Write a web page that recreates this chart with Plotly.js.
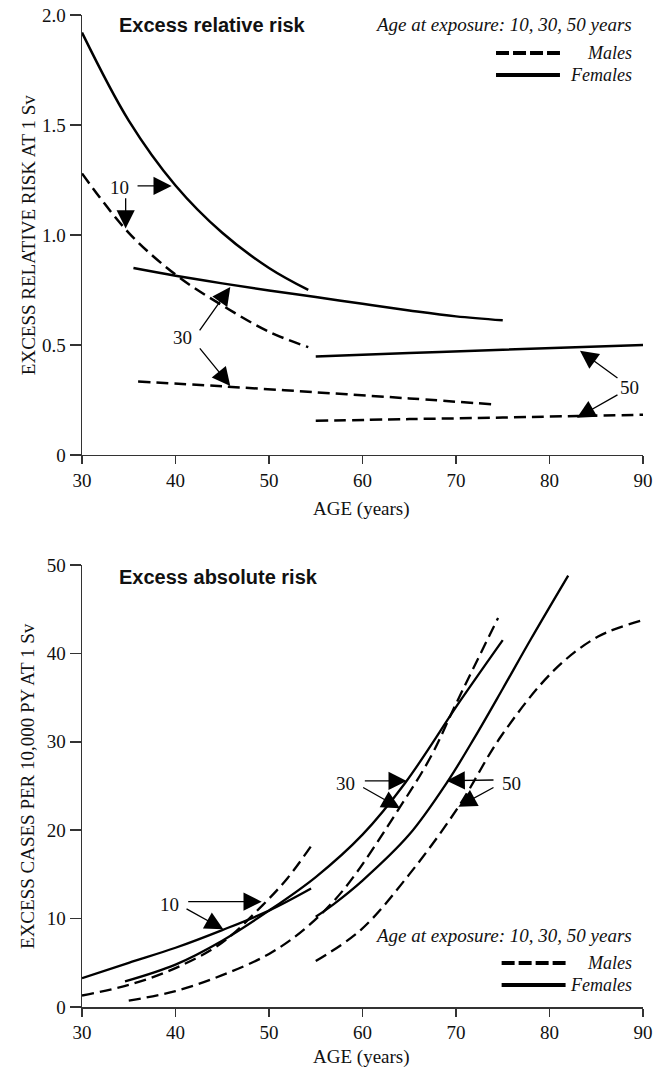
<!DOCTYPE html>
<html>
<head>
<meta charset="utf-8">
<script src="https://cdn.plot.ly/plotly-3.0.1.min.js"></script>
<style>html,body{margin:0;padding:0;background:#fff;}#chart{width:653px;height:1068px;}</style>
</head>
<body>
<div id="chart"></div>
<script>
// ---------- Data: Excess relative risk (top panel) ----------
const relF10Age  = [30, 35, 40, 45, 50, 54.2];
const relF10Val  = [1.92, 1.52, 1.225, 1.01, 0.85, 0.75];
const relM10Age  = [30, 35, 40, 45, 50, 54.2];
const relM10Val  = [1.28, 1.01, 0.82, 0.68, 0.56, 0.49];
const relF30Age  = [35.5, 40, 45, 50, 55, 60, 65, 70, 75];
const relF30Val  = [0.85, 0.815, 0.78, 0.748, 0.718, 0.687, 0.657, 0.63, 0.612];
const relM30Age  = [36, 45, 55, 65, 74.3];
const relM30Val  = [0.334, 0.312, 0.285, 0.257, 0.229];
const relF50Age  = [55, 65, 75, 90];
const relF50Val  = [0.447, 0.463, 0.478, 0.50];
const relM50Age  = [55, 65, 75, 83, 90];
const relM50Val  = [0.155, 0.163, 0.17, 0.177, 0.183];

// ---------- Data: Excess absolute risk (bottom panel) ----------
const absF10Age  = [30, 35, 40, 45, 50, 54.5];
const absF10Val  = [3.25, 5.0, 6.7, 8.7, 10.9, 13.4];
const absM10Age  = [30, 35, 40, 45, 49.3, 52, 54.5];
const absM10Val  = [1.3, 2.5, 4.4, 7.3, 11.5, 14.6, 18.2];
const absF30Age  = [34.6, 40, 45, 50, 55, 60, 64.6, 70.5, 75];
const absF30Val  = [2.9, 4.8, 7.5, 10.9, 14.7, 19.5, 25.4, 34.7, 41.5];
const absM30Age  = [35, 40, 45, 50, 54, 58, 64, 67.3, 70, 74.5];
const absM30Val  = [0.72, 1.8, 3.6, 6.0, 9.0, 13.3, 22.6, 28.3, 34.3, 44];
const absF50Age  = [55, 57, 60, 65, 69.1, 72, 75, 78, 82];
const absF50Val  = [10.2, 11.7, 14.3, 19.5, 25.5, 30.5, 36, 41.6, 48.8];
const absM50Age  = [55, 59.8, 65, 70.3, 74.8, 80.5, 85.2, 89.8];
const absM50Val  = [5.2, 8.7, 15.0, 22.7, 30.6, 38.1, 41.9, 43.7];

// ---------- Tick labels ----------
const xTickVals = [30, 40, 50, 60, 70, 80, 90];
const relTickVals = [0, 0.5, 1, 1.5, 2];
const relTickText = ['0', '0.5', '1.0', '1.5', '2.0'];
const absTickVals = [0, 10, 20, 30, 40, 50];

const serif = 'Liberation Serif, Times New Roman, serif';
const sans = 'Liberation Sans, Arial, sans-serif';

function curve(x, y, dashed, xa, ya, w) {
  return {
    x: x, y: y, xaxis: xa, yaxis: ya, type: 'scatter', mode: 'lines',
    line: {color: '#000', width: w, dash: dashed ? '12px,6px' : 'solid', shape: 'spline', smoothing: 1},
    hoverinfo: 'skip', showlegend: false
  };
}

const traces = [
  curve(relF10Age, relF10Val, false, 'x', 'y', 2.5),
  curve(relM10Age, relM10Val, true, 'x', 'y', 2.5),
  curve(relF30Age, relF30Val, false, 'x', 'y', 2.5),
  curve(relM30Age, relM30Val, true, 'x', 'y', 2.5),
  curve(relF50Age, relF50Val, false, 'x', 'y', 2.5),
  curve(relM50Age, relM50Val, true, 'x', 'y', 2.5),
  curve(absF10Age, absF10Val, false, 'x2', 'y2', 2.3),
  curve(absM10Age, absM10Val, true, 'x2', 'y2', 2.3),
  curve(absF30Age, absF30Val, false, 'x2', 'y2', 2.3),
  curve(absM30Age, absM30Val, true, 'x2', 'y2', 2.3),
  curve(absF50Age, absF50Val, false, 'x2', 'y2', 2.3),
  curve(absM50Age, absM50Val, true, 'x2', 'y2', 2.3)
];

const axisCommon = {
  showgrid: false, zeroline: false, showline: true, linecolor: '#333', linewidth: 1.5,
  ticks: 'outside', tickcolor: '#333', tickwidth: 1.5,
  tickfont: {family: serif, size: 19, color: '#111'}
};

function label(text, x, y, xr, yr) {
  return {text: text, x: x, y: y, xref: xr, yref: yr, showarrow: false,
          font: {family: serif, size: 19, color: '#111'}, xanchor: 'center', yanchor: 'middle'};
}
function arrow(tx, ty, hx, hy, xr, yr) {
  return {text: '', x: hx, y: hy, ax: tx, ay: ty, xref: xr, yref: yr, axref: xr, ayref: yr,
          showarrow: true, arrowhead: 2, arrowsize: 2.8, arrowwidth: 1.3, arrowcolor: '#000', standoff: 0};
}
function note(text, x, y, anchor, size, fam) {
  return {text: text, x: x, y: y, xref: 'paper', yref: 'paper', xanchor: anchor, yanchor: 'middle',
          showarrow: false, font: {family: fam || serif, size: size, color: '#111'}};
}

const annotations = [
  // panel titles
  note('<b>Excess relative risk</b>', 0.0624, 0.99, 'left', 20, sans),
  note('<b>Excess absolute risk</b>', 0.0624, 0.4335, 'left', 20, sans),
  // legend texts top
  note('<i>Age at exposure: 10, 30, 50 years</i>', 0.984, 0.99, 'right', 19),
  note('<i>Males</i>', 0.984, 0.9617, 'right', 18),
  note('<i>Females</i>', 0.984, 0.9395, 'right', 18),
  // legend texts bottom
  note('<i>Age at exposure: 10, 30, 50 years</i>', 0.984, 0.0716, 'right', 19),
  note('<i>Males</i>', 0.984, 0.0444, 'right', 18),
  note('<i>Females</i>', 0.984, 0.0222, 'right', 18),
  // axis titles
  note('AGE (years)', 0.499, 0.502, 'center', 19),
  note('AGE (years)', 0.499, -0.0504, 'center', 19),
  Object.assign(note('EXCESS RELATIVE RISK AT 1 Sv', -0.0963, 0.778, 'center', 19), {textangle: -90}),
  Object.assign(note('EXCESS CASES PER 10,000 PY AT 1 Sv', -0.0963, 0.2228, 'center', 19), {textangle: -90}),
  // top panel labels/arrows
  label('10', 34.06, 1.215, 'x', 'y'),
  arrow(35.78, 1.223, 39.59, 1.223, 'x', 'y'),
  arrow(34.67, 1.174, 34.67, 1.030, 'x', 'y'),
  label('30', 40.80, 0.532, 'x', 'y'),
  arrow(42.47, 0.559, 45.86, 0.764, 'x', 'y'),
  arrow(42.47, 0.491, 45.86, 0.314, 'x', 'y'),
  label('50', 88.58, 0.306, 'x', 'y'),
  arrow(87.43, 0.345, 83.26, 0.474, 'x', 'y'),
  arrow(87.43, 0.277, 82.94, 0.169, 'x', 'y'),
  // bottom panel labels/arrows
  label('10', 39.41, 11.54, 'x2', 'y2'),
  arrow(41.20, 11.91, 49.22, 11.91, 'x2', 'y2'),
  arrow(41.02, 11.2, 45.11, 8.79, 'x2', 'y2'),
  label('30', 58.13, 25.3, 'x2', 'y2'),
  arrow(60.09, 25.57, 64.73, 25.57, 'x2', 'y2'),
  arrow(59.91, 24.92, 64.01, 22.48, 'x2', 'y2'),
  label('50', 75.96, 25.3, 'x2', 'y2'),
  arrow(74.17, 25.68, 69.0, 25.6, 'x2', 'y2'),
  arrow(74.17, 24.92, 70.25, 22.66, 'x2', 'y2')
];

const shapes = [
  // legend samples top
  {type: 'line', xref: 'paper', yref: 'paper', x0: 0.738, x1: 0.852, y0: 0.9617, y1: 0.9617,
   line: {color: '#000', width: 4, dash: '13px,4px'}},
  {type: 'line', xref: 'paper', yref: 'paper', x0: 0.738, x1: 0.852, y0: 0.9395, y1: 0.9395,
   line: {color: '#000', width: 4}},
  // legend samples bottom
  {type: 'line', xref: 'paper', yref: 'paper', x0: 0.748, x1: 0.862, y0: 0.0444, y1: 0.0444,
   line: {color: '#000', width: 4, dash: '13px,4px'}},
  {type: 'line', xref: 'paper', yref: 'paper', x0: 0.748, x1: 0.862, y0: 0.0222, y1: 0.0222,
   line: {color: '#000', width: 4}}
];

const layout = {
  width: 653, height: 1068,
  margin: {l: 82, r: 10, t: 15, b: 61},
  paper_bgcolor: '#fff', plot_bgcolor: '#fff',
  showlegend: false,
  xaxis: Object.assign({}, axisCommon, {anchor: 'y', domain: [0, 1], range: [30, 90], tickvals: xTickVals, ticklen: 8}),
  yaxis: Object.assign({}, axisCommon, {anchor: 'x', domain: [0.5565, 1], range: [0, 2], tickvals: relTickVals, ticktext: relTickText, ticklen: 11}),
  xaxis2: Object.assign({}, axisCommon, {anchor: 'y2', domain: [0, 1], range: [30, 90], tickvals: xTickVals, ticklen: 8}),
  yaxis2: Object.assign({}, axisCommon, {anchor: 'x2', domain: [0, 0.4456], range: [0, 50], tickvals: absTickVals, ticklen: 11}),
  annotations: annotations,
  shapes: shapes
};

Plotly.newPlot('chart', traces, layout, {staticPlot: true, displayModeBar: false});
</script>
</body>
</html>
